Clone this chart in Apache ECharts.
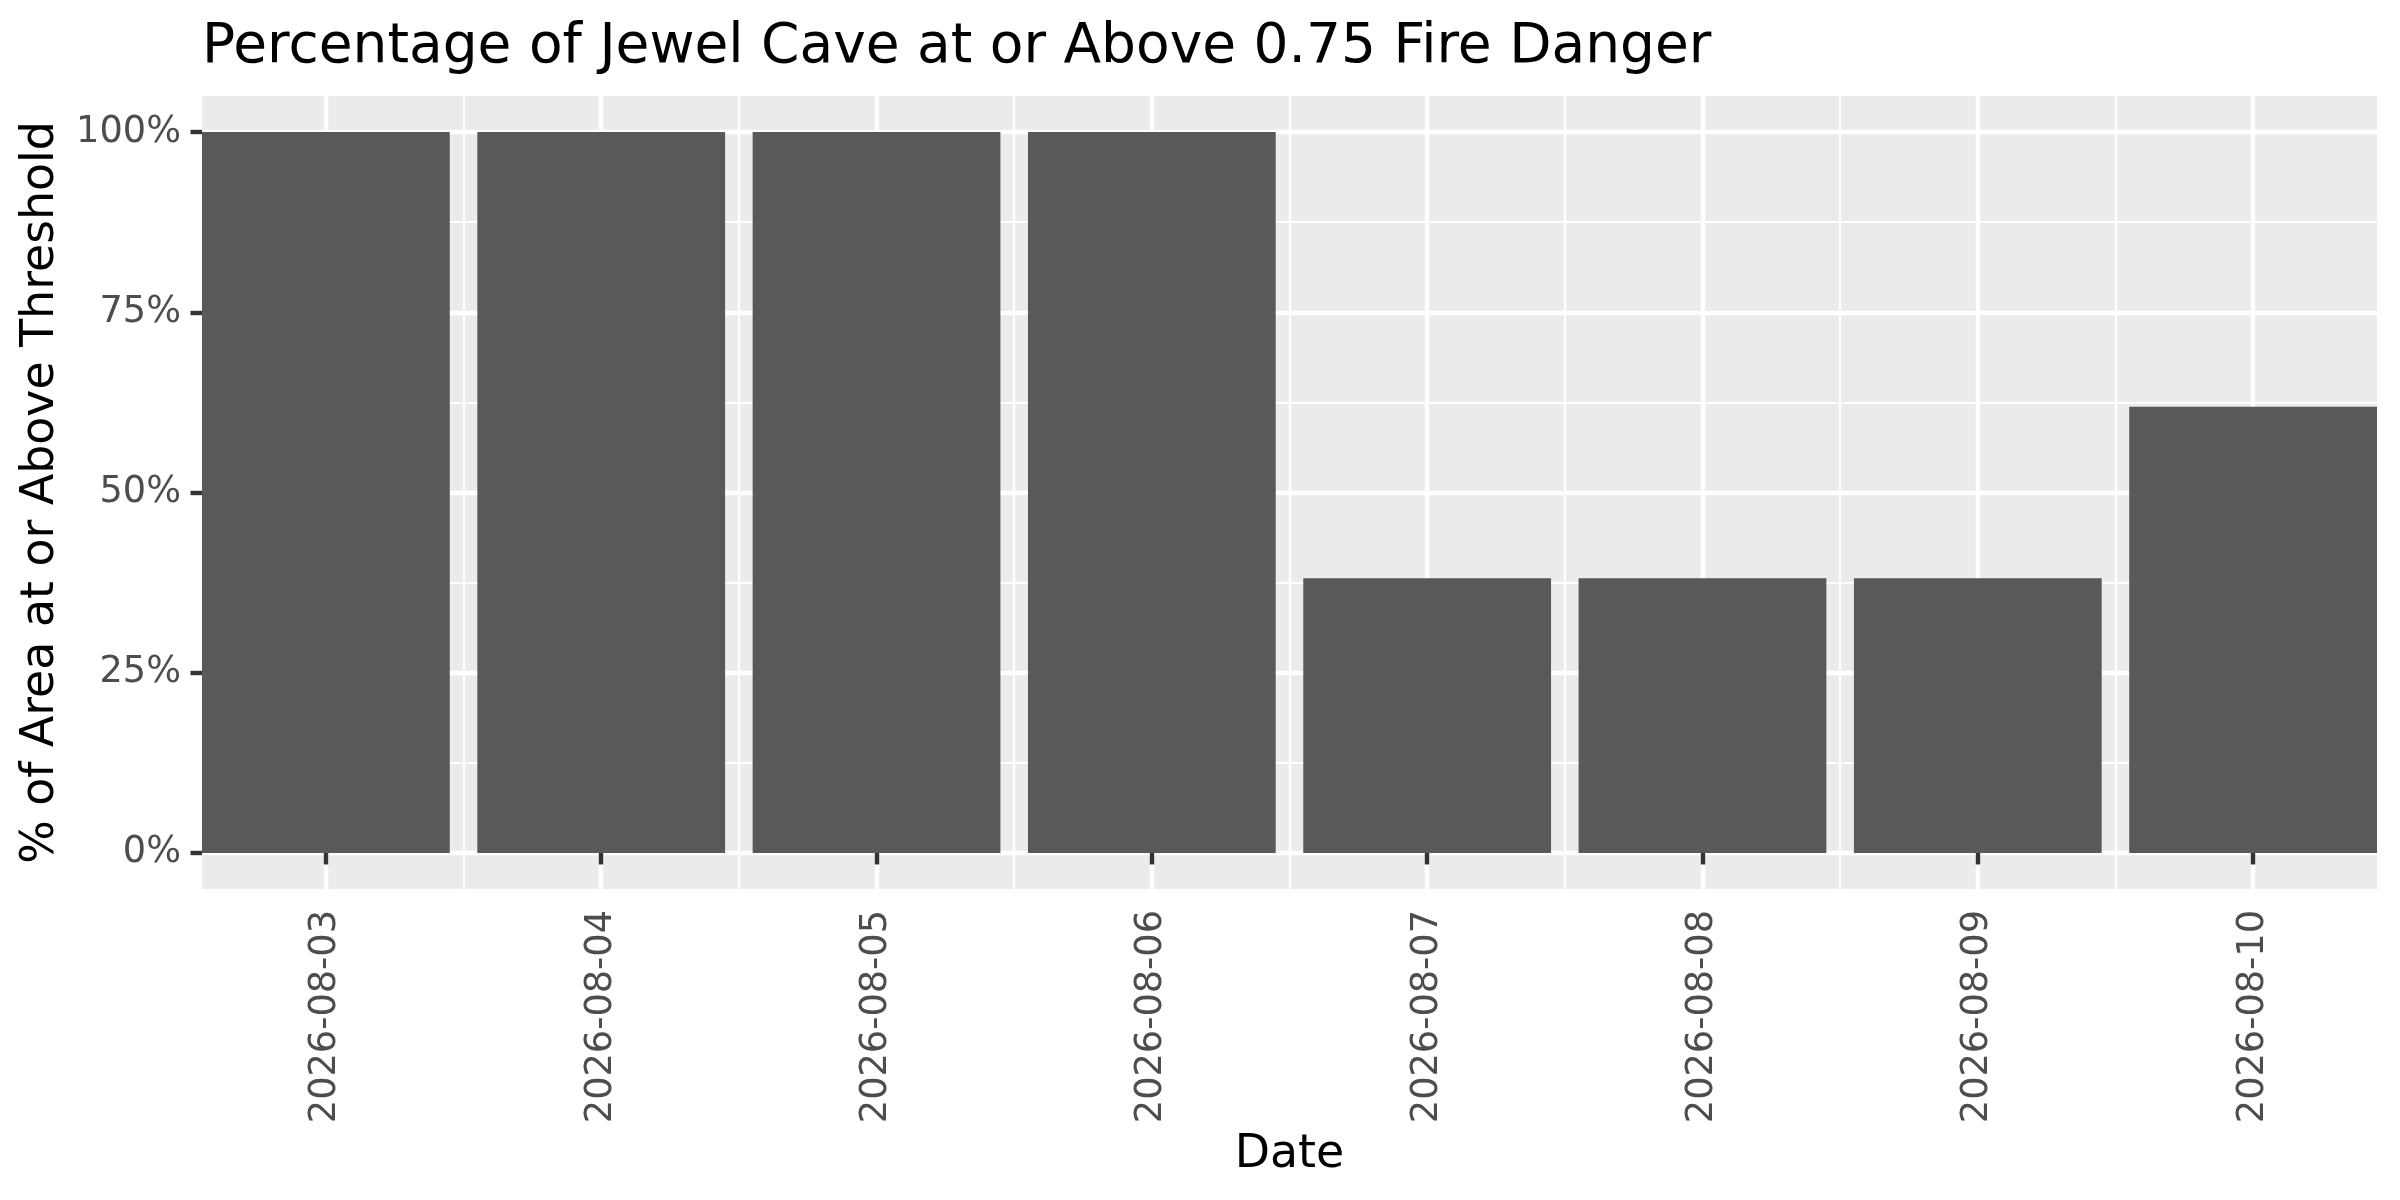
<!DOCTYPE html>
<html>
<head>
<meta charset="utf-8">
<title>Jewel Cave fire danger</title>
<script src="https://cdn.jsdelivr.net/npm/echarts@6/dist/echarts.min.js"></script>
<style>
  html, body { margin: 0; padding: 0; background: #fff; }
  #chart { width: 2400px; height: 1200px; }
</style>
</head>
<body>
<div id="chart"></div>
<script>
// data
var dates = ['2026-08-03', '2026-08-04', '2026-08-05', '2026-08-06',
             '2026-08-07', '2026-08-08', '2026-08-09', '2026-08-10'];
var pctAbove = [1, 1, 1, 1, 0.381, 0.381, 0.381, 0.619];
var yBreaks = [0, 0.25, 0.5, 0.75, 1];
var yMinorBreaks = [0.125, 0.375, 0.625, 0.875];

// dates sit at 1..n on a continuous axis, minor breaks half way between
var xBreaks = dates.map(function (d, i) { return i + 1; });
var xMinorBreaks = xBreaks.slice(0, -1).map(function (v) { return v + 0.5; });

var FONT = 'DejaVu Sans';
var GRID_MAJOR = 4.4;
var GRID_MINOR = 2.2;

var chart = echarts.init(document.getElementById('chart'));

var hidden = { show: false };

chart.setOption({
    animation: false,
    backgroundColor: '#ffffff',
    textStyle: { fontFamily: FONT },
    title: {
        text: 'Percentage of Jewel Cave at or Above 0.75 Fire Danger',
        left: 202,
        top: 20,
        padding: 0,
        textStyle: { fontFamily: FONT, fontSize: 55, fontWeight: 'normal', color: '#000000' }
    },
    grid: {
        left: 202,
        right: 23,
        top: 96,
        bottom: 311,
        show: true,
        backgroundColor: '#EBEBEB',
        borderWidth: 0
    },
    xAxis: [{
        // only here for the minor vertical grid lines
        type: 'value',
        min: 0.55,
        max: 8.45,
        position: 'bottom',
        axisLine: hidden,
        axisTick: { show: false, customValues: xMinorBreaks },
        axisLabel: { show: false, customValues: xMinorBreaks },
        splitLine: { show: true, lineStyle: { color: '#ffffff', width: GRID_MINOR } }
    }, {
        type: 'value',
        min: 0.55,
        max: 8.45,
        position: 'bottom',
        name: 'Date',
        nameLocation: 'middle',
        nameGap: 243,
        nameTextStyle: { fontFamily: FONT, fontSize: 45.8, color: '#000000' },
        axisLine: hidden,
        axisTick: {
            show: true,
            length: 11.5,
            customValues: xBreaks,
            lineStyle: { color: '#333333', width: GRID_MAJOR }
        },
        axisLabel: {
            customValues: xBreaks,
            rotate: 90,
            margin: 21,
            fontFamily: FONT,
            fontSize: 36.7,
            color: '#4D4D4D',
            formatter: function (v) { return dates[Math.round(v) - 1]; }
        },
        splitLine: { show: true, lineStyle: { color: '#ffffff', width: GRID_MAJOR } }
    }],
    yAxis: [{
        type: 'value',
        min: -0.05,
        max: 1.05,
        position: 'left',
        axisLine: hidden,
        axisTick: { show: false, customValues: yMinorBreaks },
        axisLabel: { show: false, customValues: yMinorBreaks },
        splitLine: { show: true, lineStyle: { color: '#ffffff', width: GRID_MINOR } }
    }, {
        type: 'value',
        min: -0.05,
        max: 1.05,
        position: 'left',
        name: '% of Area at or Above Threshold',
        nameLocation: 'middle',
        nameRotate: 90,
        nameGap: 138,
        nameTextStyle: { fontFamily: FONT, fontSize: 45.8, color: '#000000' },
        axisLine: hidden,
        axisTick: {
            show: true,
            length: 11.5,
            customValues: yBreaks,
            lineStyle: { color: '#333333', width: GRID_MAJOR }
        },
        axisLabel: {
            customValues: yBreaks,
            margin: 21,
            fontFamily: FONT,
            fontSize: 36.7,
            color: '#4D4D4D',
            formatter: function (v) { return Math.round(v * 100) + '%'; }
        },
        splitLine: { show: true, lineStyle: { color: '#ffffff', width: GRID_MAJOR } }
    }],
    series: [{
        type: 'bar',
        xAxisIndex: 1,
        yAxisIndex: 1,
        barWidth: '90%',
        itemStyle: { color: '#595959' },
        data: xBreaks.map(function (x, i) { return [x, pctAbove[i]]; })
    }]
});
</script>
</body>
</html>
